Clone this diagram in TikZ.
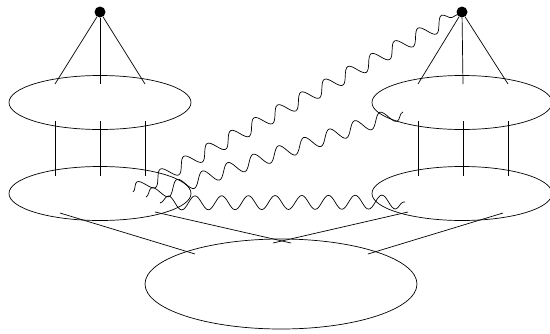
\documentclass[tikz,border=0pt]{standalone}
\usetikzlibrary{decorations.pathmorphing}

\begin{document}
\begin{tikzpicture}[x=1pt, y=-1pt, line width=0.7pt,
  vertex/.style={circle, fill, inner sep=0pt, minimum size=11pt},
  photon/.style={decorate, decoration={snake, segment length=26.7pt, amplitude=7pt}}]
  \useasboundingbox (0,0) rectangle (550,333);
  % 两个顶点
  \node[vertex] (tipL) at (100,12) {};
  \node[vertex] (tipR) at (462,12) {};
  % 椭圆
  \draw (100,102.5) ellipse [x radius=91, y radius=27];
  \draw (100,193.5) ellipse [x radius=91, y radius=27];
  \draw (462,102.5) ellipse [x radius=90, y radius=27];
  \draw (462,193.5) ellipse [x radius=90, y radius=27];
  \draw (281,284) ellipse [x radius=136, y radius=45];
  % 顶点下的三条线
  \foreach \x/\n in {55/a, 100/b, 145/c} {
    \coordinate (L\n) at (\x,84);
    \draw (tipL) -- (L\n);
    \draw (\x,121) -- (\x,175.5);
  }
  \foreach \x/\n in {418/a, 463/b, 508/c} {
    \coordinate (R\n) at (\x,84);
    \draw (tipR) -- (R\n);
    \draw (\x,121) -- (\x,175.5);
  }
  % 下方交叉线
  \coordinate (P1) at (60,213);   \coordinate (Q1) at (195,254);
  \coordinate (P2) at (155,212);  \coordinate (Q2) at (291,243);
  \coordinate (P3) at (408,212);  \coordinate (Q3) at (273,243);
  \coordinate (P4) at (503,213);  \coordinate (Q4) at (368,254);
  \draw (P1) -- (Q1);
  \draw (P2) -- (Q2);
  \draw (P3) -- (Q3);
  \draw (P4) -- (Q4);
  % 波浪线
  \coordinate (S1) at (133,192);
  \coordinate (S2) at (146,197);
  \coordinate (S3) at (160,203);
  \coordinate (E2) at (403,112);
  \coordinate (E3) at (405,202);
  \draw[photon] (S1) -- (tipR.center);
  \draw[photon] (S2) -- (E2);
  \draw[photon] (S3) -- (E3);
\end{tikzpicture}
\end{document}
